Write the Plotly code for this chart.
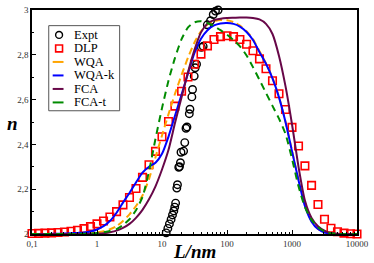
import plotly.graph_objects as go

# ---------------- data ----------------
# common log-spaced grid of L (nm) used for DLP squares and model curves
L_grid = [0.1, 0.126, 0.158, 0.2, 0.251, 0.316, 0.398, 0.501, 0.631, 0.794,
          1, 1.26, 1.58, 2, 2.51, 3.16, 3.98, 5.01, 6.31, 7.94,
          10, 12.6, 15.8, 20, 25.1, 31.6, 39.8, 50.1, 63.1, 79.4,
          100, 126, 158, 200, 251, 316, 398, 501, 631, 794,
          1000, 1260, 1580, 2000, 2510, 3160, 3980, 5010, 6310, 7940, 10000]

n_dlp = [2.002, 2.003, 2.004, 2.005, 2.007, 2.009, 2.012, 2.017, 2.024, 2.033,
         2.045, 2.058, 2.076, 2.100, 2.130, 2.163, 2.203, 2.253, 2.309, 2.369,
         2.434, 2.502, 2.571, 2.637, 2.701, 2.758, 2.803, 2.840, 2.868, 2.881,
         2.885, 2.881, 2.868, 2.847, 2.818, 2.782, 2.738, 2.684, 2.626, 2.556,
         2.476, 2.393, 2.304, 2.217, 2.132, 2.066, 2.026, 2.010, 2.004, 2.001, 2.000]

n_wqa = [2.000, 2.000, 2.000, 2.000, 2.000, 2.000, 2.000, 2.001, 2.002, 2.004,
         2.007, 2.012, 2.021, 2.035, 2.058, 2.088, 2.125, 2.172, 2.245, 2.343,
         2.440, 2.535, 2.625, 2.710, 2.787, 2.855, 2.905, 2.935, 2.950, 2.955,
         2.954, 2.946, 2.930, 2.905, 2.870, 2.816, 2.762, 2.697, 2.612, 2.502,
         2.372, 2.242, 2.127, 2.057, 2.023, 2.008, 2.002, 2.000, 2.000, 2.000, 2.000]

n_wqak = [2.000, 2.000, 2.000, 2.001, 2.001, 2.002, 2.003, 2.005, 2.007, 2.011,
          2.020, 2.035, 2.058, 2.095, 2.140, 2.183, 2.230, 2.274, 2.300, 2.318,
          2.358, 2.435, 2.527, 2.623, 2.717, 2.808, 2.872, 2.910, 2.931, 2.940,
          2.942, 2.938, 2.926, 2.902, 2.866, 2.812, 2.760, 2.695, 2.610, 2.500,
          2.370, 2.240, 2.125, 2.055, 2.022, 2.007, 2.002, 2.000, 2.000, 2.000, 2.000]

n_fca = [2.000, 2.000, 2.000, 2.000, 2.000, 2.000, 2.000, 2.000, 2.000, 2.000,
         2.001, 2.003, 2.008, 2.015, 2.027, 2.045, 2.072, 2.108, 2.155, 2.213,
         2.288, 2.376, 2.494, 2.610, 2.722, 2.822, 2.900, 2.940, 2.955, 2.961,
         2.964, 2.965, 2.966, 2.966, 2.964, 2.958, 2.938, 2.893, 2.795, 2.660,
         2.490, 2.300, 2.150, 2.072, 2.035, 2.015, 2.004, 2.001, 2.000, 2.000, 2.000]

n_fcat = [2.000, 2.000, 2.000, 2.000, 2.000, 2.000, 2.000, 2.001, 2.001, 2.002,
          2.004, 2.008, 2.013, 2.022, 2.040, 2.066, 2.106, 2.165, 2.280, 2.425,
          2.562, 2.685, 2.785, 2.870, 2.922, 2.945, 2.950, 2.942, 2.928, 2.910,
          2.890, 2.866, 2.838, 2.797, 2.745, 2.688, 2.630, 2.572, 2.515, 2.447,
          2.336, 2.213, 2.120, 2.063, 2.030, 2.011, 2.003, 2.000, 2.000, 2.000, 2.000]

L_expt = [11.6, 12.3, 13.0, 13.8, 14.5, 15.2, 15.7, 16.2, 16.9, 17.3, 18.1,
          18.6, 19.2, 19.6, 21.5, 22.4, 23.4, 24.2, 26.3, 26.9, 28.8, 29.5,
          31.3, 32.4, 34.0, 40.4, 43.0, 49.8, 55.8, 61.4, 66.5, 73.0, 84.0]
n_expt = [2.005, 2.025, 2.045, 2.065, 2.085, 2.103, 2.120, 2.138, 2.205, 2.220,
          2.298, 2.301, 2.318, 2.365, 2.370, 2.408, 2.472, 2.478, 2.537, 2.557,
          2.612, 2.645, 2.705, 2.742, 2.758, 2.833, 2.838, 2.934, 2.952, 2.980,
          2.995, 3.000, 3.002]

x_tickvals = [0.1, 1, 10, 100, 1000, 10000]
x_ticktext = ["0,1", "1", "10", "100", "1000", "10000"]
y_tickvals = [2.0, 2.2, 2.4, 2.6, 2.8, 3.0]
y_ticktext = ["2", "2,2", "2,4", "2,6", "2,8", "3"]

series_names = ["Expt", "DLP", "WQA", "WQA-k", "FCA", "FCA-t"]
colors = {"Expt": "#000000", "DLP": "#ff0000", "WQA": "#ffa500",
          "WQA-k": "#0000ff", "FCA": "#670748", "FCA-t": "#008b00"}

# ---------------- figure ----------------
W, H = 374, 263
ML, MR, MT, MB = 32, 12, 5, 29
PW, PH = W - ML - MR, H - MT - MB

fig = go.Figure()
fig.add_trace(go.Scatter(x=L_expt, y=n_expt, mode="markers", name="Expt",
                         cliponaxis=False,
                         marker=dict(symbol="circle-open", size=7.5, color=colors["Expt"],
                                     line=dict(width=1.4))))
fig.add_trace(go.Scatter(x=L_grid, y=n_dlp, mode="markers", name="DLP",
                         cliponaxis=False,
                         marker=dict(symbol="square-open", size=7.5, color=colors["DLP"],
                                     line=dict(width=1.6))))
line_specs = [("WQA", n_wqa, "7px,4px"), ("WQA-k", n_wqak, "solid"),
              ("FCA", n_fca, "solid"), ("FCA-t", n_fcat, "7px,5px")]
for name, ys, dash in line_specs:
    fig.add_trace(go.Scatter(x=L_grid, y=ys, mode="lines", name=name,
                             line=dict(color=colors[name], width=2, dash=dash,
                                       shape="spline", smoothing=0.6)))

minor_x = [m * 10 ** e for e in range(-1, 4) for m in range(2, 10)]
minor_y = [2.1, 2.3, 2.5, 2.7, 2.9]
tickfont = dict(family="Liberation Serif", size=9, color="#333333")

fig.update_xaxes(type="log", range=[-1, 4], tickmode="array",
                 tickvals=x_tickvals, ticktext=x_ticktext, ticks="inside",
                 ticklen=4, tickwidth=1, tickcolor="black",
                 minor=dict(tickmode="array", tickvals=minor_x, ticks="inside",
                            ticklen=2, tickcolor="black", showgrid=False),
                 showline=True, linecolor="black", linewidth=1.5, mirror=True,
                 showgrid=False, zeroline=False, tickfont=tickfont)
fig.update_yaxes(range=[2, 3], tickmode="array", tickvals=y_tickvals,
                 ticktext=y_ticktext, ticks="inside", ticklen=4, tickwidth=1,
                 tickcolor="black",
                 minor=dict(tickmode="array", tickvals=minor_y, ticks="inside",
                            ticklen=2, tickcolor="black", showgrid=False),
                 showline=True, linecolor="black", linewidth=1.5, mirror=True,
                 showgrid=False, zeroline=False, tickfont=tickfont)


def fx(px):
    return (px - ML) / PW


def fy(py):
    return (H - MB - py) / PH


shapes = [dict(type="rect", xref="paper", yref="paper",
               x0=fx(49), x1=fx(121), y0=fy(108), y1=fy(21),
               line=dict(color="#555555", width=1), fillcolor="white", layer="above")]
annotations = []
row_y = [30.5, 44.3, 58.1, 71.9, 85.7, 99.5]
for name, py in zip(series_names, row_y):
    c = colors[name]
    if name == "Expt":
        shapes.append(dict(type="circle", xref="paper", yref="paper",
                           x0=fx(59.5 - 3.5), x1=fx(59.5 + 3.5),
                           y0=fy(py + 3.5), y1=fy(py - 3.5),
                           line=dict(color=c, width=1.4), layer="above"))
    elif name == "DLP":
        shapes.append(dict(type="rect", xref="paper", yref="paper",
                           x0=fx(59.5 - 3.5), x1=fx(59.5 + 3.5),
                           y0=fy(py + 3.5), y1=fy(py - 3.5),
                           line=dict(color=c, width=1.6), layer="above"))
    else:
        shapes.append(dict(type="line", xref="paper", yref="paper",
                           x0=fx(53), x1=fx(64), y0=fy(py), y1=fy(py),
                           line=dict(color=c, width=2), layer="above"))
    annotations.append(dict(xref="paper", yref="paper", x=fx(73.5), y=fy(py),
                            xanchor="left", yanchor="middle", showarrow=False,
                            text=name, borderpad=0,
                            font=dict(family="Liberation Serif", size=12.5, color="black")))

annotations.append(dict(xref="paper", yref="paper", x=fx(12), y=fy(121),
                        xanchor="center", yanchor="middle", showarrow=False,
                        text="<b><i>n</i></b>",
                        font=dict(family="Liberation Serif", size=19, color="black")))
annotations.append(dict(xref="paper", yref="paper", x=fx(197), y=fy(252),
                        xanchor="center", yanchor="middle", showarrow=False,
                        text="<b><i>L/nm</i></b>",
                        font=dict(family="Liberation Serif", size=19, color="black")))

fig.update_layout(width=W, height=H, margin=dict(l=ML, r=MR, t=MT, b=MB),
                  plot_bgcolor="white", paper_bgcolor="white", showlegend=False,
                  shapes=shapes, annotations=annotations)

fig.write_html("out.html", config={"displayModeBar": False},
               post_script="document.body.style.margin='0px';"
                           "document.body.style.overflow='hidden';")
